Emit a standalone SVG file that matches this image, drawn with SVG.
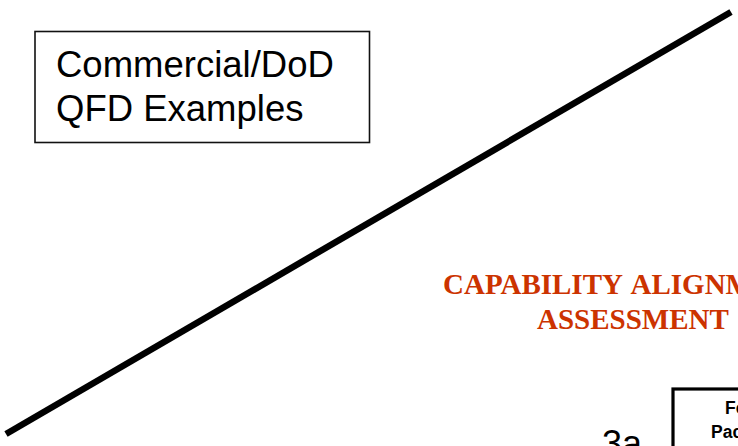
<svg xmlns="http://www.w3.org/2000/svg" width="738" height="446" viewBox="0 0 738 446">
  <style>
    .title { font-family: "Liberation Sans", Arial, sans-serif; font-size: 36.5px; fill: #000; }
    .heading { font-family: "Liberation Serif", "Times New Roman", serif; font-size: 29px; font-weight: bold; fill: #cc3300; }
    .label { font-family: "Liberation Sans", Arial, sans-serif; font-size: 17.5px; font-weight: bold; fill: #000; }
    .big { font-family: "Liberation Sans", Arial, sans-serif; font-size: 36px; fill: #000; }
  </style>
  <rect width="738" height="446" fill="#fff"/>

  <!-- title box -->
  <g id="title-box">
    <rect x="35" y="31.5" width="334.5" height="111" fill="#fff" stroke="#111" stroke-width="1.6"/>
    <text class="title" x="56" y="77">Commercial/DoD</text>
    <text class="title" x="56" y="121">QFD Examples</text>
  </g>

  <!-- diagonal divider -->
  <g id="connectors">
    <line x1="6" y1="434" x2="731" y2="12" stroke="#000" stroke-width="6.5"/>
  </g>

  <!-- section heading -->
  <g id="heading">
    <text class="heading" x="443" y="293.5" word-spacing="3">CAPABILITY ALIGNMENT</text>
    <text class="heading" x="537" y="328.5">ASSESSMENT</text>
  </g>

  <!-- step marker and package box -->
  <g id="step-3a">
    <text class="big" x="602" y="456">3a</text>
  </g>
  <g id="package-box">
    <rect x="673" y="389" width="90" height="80" fill="#fff" stroke="#000" stroke-width="3.2"/>
    <text class="label" x="725" y="414">Force</text>
    <text class="label" x="711" y="438">Package</text>
  </g>
</svg>
